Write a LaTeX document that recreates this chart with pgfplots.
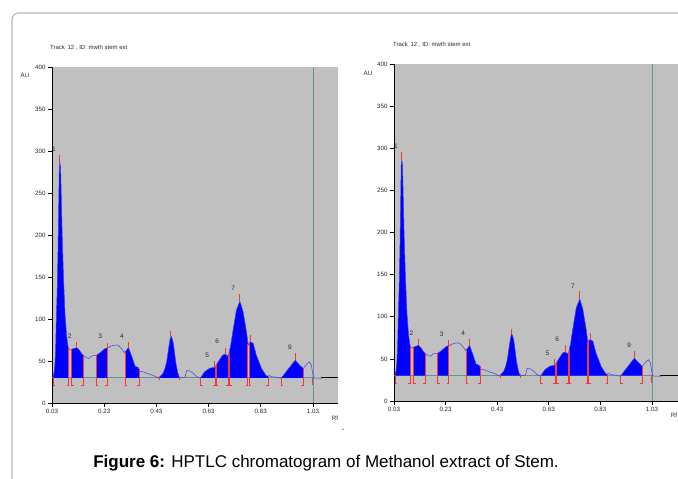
\documentclass[border=0pt]{standalone}
\usepackage{pgfplots}
\pgfplotsset{compat=1.18}
\usepackage{pgfplotstable}
\usepackage{fontspec}
\setmainfont{Liberation Sans}
\definecolor{plotgray}{RGB}{192,192,192}
\definecolor{tealline}{RGB}{96,150,150}
\definecolor{curveblue}{RGB}{60,60,230}
\definecolor{fillblue}{RGB}{0,0,255}
\definecolor{redmark}{RGB}{245,55,55}
\definecolor{framegray}{RGB}{180,180,180}
\definecolor{labelgray}{RGB}{40,40,40}

\pgfplotstableread{
rf au
0.030 29.5
0.034 31
0.038 36
0.041 45
0.044 65
0.0466 100
0.050 135
0.053 180
0.056 240
0.058 280
0.0605 286
0.063 280
0.066 240
0.069 200
0.074 150
0.080 105
0.086 80
0.091 68
0.0937 64
0.100 63
0.106 64
0.115 65
0.1255 66
0.135 63
0.145 58
0.157 55
0.170 53
0.183 56
0.202 57
0.215 60
0.234 65
0.243 65.5
0.259 68
0.272 69
0.285 68.5
0.298 64
0.308 60
0.316 63
0.323 66
0.336 55
0.348 44
0.361 42
0.368 37.5
0.380 37
0.393 35.5
0.405 34
0.419 32.7
0.438 29.5
0.444 31.5
0.455 35
0.463 41
0.470 50
0.476 63
0.482 75
0.486 80
0.490 77
0.495 71
0.505 47
0.512 36
0.518 30.3
0.530 30
0.540 31
0.546 38.6
0.559 38
0.571 35.5
0.584 31.5
0.599 29.5
0.608 34
0.616 37.5
0.635 41.4
0.654 42.5
0.667 49
0.684 57
0.692 58
0.705 56
0.714 67
0.724 87
0.737 111
0.750 121
0.762 109
0.775 85
0.782 69
0.790 73
0.801 71
0.813 57
0.833 41
0.852 32
0.864 32.5
0.875 31
0.884 31
0.895 30
0.909 29.5
0.928 37.5
0.947 45
0.962 51
0.979 45
0.993 41
1.005 46
1.016 49
1.024 45
1.031 31.5
1.036 29.5
1.068 29.5
}\trace

% integrated peak areas (closed at the baseline, AU = 30)
\pgfplotstableread{
rf au
0.034 30
0.034 31
0.038 36
0.041 45
0.044 65
0.0466 100
0.050 135
0.053 180
0.056 240
0.058 280
0.0605 286
0.063 280
0.066 240
0.069 200
0.074 150
0.080 105
0.086 80
0.091 68
0.0937 64
0.0937 30
0.0937 nan
0.1064 30
0.1064 64
0.115 65
0.1255 66
0.135 63
0.145 58
0.151 56.5
0.151 30
0.151 nan
0.199 30
0.199 56.8
0.202 57
0.215 60
0.234 65
0.243 65.5
0.243 30
0.243 nan
0.310 30
0.310 60.7
0.316 63
0.323 66
0.336 55
0.348 44
0.361 42
0.365 39.5
0.365 30
0.365 nan
0.441 30
0.444 31.5
0.455 35
0.463 41
0.470 50
0.476 63
0.482 75
0.486 80
0.490 77
0.495 71
0.505 47
0.512 36
0.518 30.3
0.520 30
0.520 nan
0.599 30
0.608 34
0.616 37.5
0.635 41.4
0.654 42.5
0.656 43.5
0.656 30
0.656 nan
0.660 30
0.660 45
0.667 49
0.684 57
0.692 58
0.705 56
0.706 57
0.706 30
0.706 nan
0.710 30
0.710 62
0.714 67
0.724 87
0.737 111
0.750 121
0.762 109
0.775 85
0.781 70
0.781 30
0.781 nan
0.785 30
0.785 71
0.790 73
0.801 71
0.813 57
0.833 41
0.852 32
0.858 32.2
0.858 30
0.858 nan
0.909 30
0.928 37.5
0.947 45
0.962 51
0.979 45
0.993 41
0.993 30
}\areas

\pgfplotsset{hptlc/.style={
  scale only axis,
  anchor=south west,
  xmin=0.03, ymin=0, ymax=400,
  axis x line=bottom, axis y line=left,
  axis line style={-, black, line width=0.8pt},
  axis background/.style={fill=plotgray},
  xtick={0.03,0.23,0.43,0.63,0.83,1.03},
  xticklabels={0.03,0.23,0.43,0.63,0.83,1.03},
  ytick={0,50,100,150,200,250,300,350,400},
  tick align=outside,
  major tick length=4pt,
  tick style={black, line width=0.6pt},
  ticklabel style={font=\fontsize{6.2}{7}\selectfont, text=labelgray},
  xticklabel style={yshift=1.5pt},
  yticklabel style={xshift=1pt},
  /pgf/number format/assume math mode=true,
  unbounded coords=jump,
  rm/.style={draw=redmark, line width=1pt, mark=none},
}}

\newcommand{\pk}{\fontsize{6.5}{7}\selectfont}
\newcommand{\peaklabels}{%
  \node[font=\pk, text=labelgray] at (axis cs:0.037,302) {1};
  \node[font=\pk, text=labelgray] at (axis cs:0.098,80) {2};
  \node[font=\pk, text=labelgray] at (axis cs:0.215,79) {3};
  \node[font=\pk, text=labelgray] at (axis cs:0.298,80) {4};
  \node[font=\pk, text=labelgray] at (axis cs:0.625,57) {5};
  \node[font=\pk, text=labelgray] at (axis cs:0.663,73) {6};
  \node[font=\pk, text=labelgray] at (axis cs:0.724,136) {7};
  \node[font=\pk, text=labelgray] at (axis cs:0.766,88) {8};
  \node[font=\pk, text=labelgray] at (axis cs:0.942,66) {9};
}

\newcommand{\redlines}{%
  % integration start "[" and end "]" markers, each up to the trace
  \addplot[rm] coordinates {(0.042,21) (0.034,21) (0.034,31)};
  \addplot[rm] coordinates {(0.0857,21) (0.0937,21) (0.0937,64)};
  \addplot[rm] coordinates {(0.1144,21) (0.1064,21) (0.1064,64)};
  \addplot[rm] coordinates {(0.143,21) (0.151,21) (0.151,56)};
  \addplot[rm] coordinates {(0.207,21) (0.199,21) (0.199,57)};
  \addplot[rm] coordinates {(0.235,21) (0.243,21) (0.243,72)};
  \addplot[rm] coordinates {(0.318,21) (0.310,21) (0.310,61)};
  \addplot[rm] coordinates {(0.357,21) (0.365,21) (0.365,41)};
  \addplot[rm] coordinates {(0.441,27) (0.441,32)};
  \addplot[rm] coordinates {(0.520,27) (0.520,32)};
  \addplot[rm] coordinates {(0.607,21) (0.599,21) (0.599,30)};
  \addplot[rm] coordinates {(0.648,21) (0.656,21) (0.656,44)};
  \addplot[rm] coordinates {(0.668,21) (0.660,21) (0.660,45)};
  \addplot[rm] coordinates {(0.698,21) (0.706,21) (0.706,56)};
  \addplot[rm] coordinates {(0.718,21) (0.710,21) (0.710,60)};
  \addplot[rm] coordinates {(0.773,21) (0.781,21) (0.781,70)};
  \addplot[rm] coordinates {(0.793,21) (0.785,21) (0.785,72)};
  \addplot[rm] coordinates {(0.850,21) (0.858,21) (0.858,32)};
  \addplot[rm] coordinates {(0.917,21) (0.909,21) (0.909,30)};
  \addplot[rm] coordinates {(0.985,21) (0.993,21) (0.993,41)};
  \addplot[rm] coordinates {(1.030,21) (1.030,31)};
  % peak maxima
  \addplot[rm] coordinates {(0.0605,286) (0.0605,295)};
  \addplot[rm] coordinates {(0.1255,66) (0.1255,73)};
  \addplot[rm] coordinates {(0.323,66) (0.323,73)};
  \addplot[rm] coordinates {(0.486,80) (0.486,86)};
  \addplot[rm] coordinates {(0.652,42.5) (0.652,50)};
  \addplot[rm] coordinates {(0.695,58) (0.695,66)};
  \addplot[rm] coordinates {(0.750,121) (0.750,130)};
  \addplot[rm] coordinates {(0.790,73) (0.790,81)};
  \addplot[rm] coordinates {(0.962,51) (0.962,59)};
}

\newcommand{\chartbody}[1]{%
  \addplot[tealline, line width=0.6pt] coordinates {(0.03,30) (1.03,30)};
  \addplot[black, line width=0.6pt] coordinates {(1.062,30) (#1,30)};
  \addplot[tealline, line width=0.6pt] coordinates {(1.03,0) (1.03,400)};
  \addplot[fill=fillblue, draw=none] table[x=rf,y=au]{\areas};
  \addplot[curveblue, line width=0.5pt] table[x=rf,y=au]{\trace};
  \redlines
  \peaklabels
}

\begin{document}
\begin{tikzpicture}[x=1pt,y=1pt]
\path[use as bounding box] (0,0) rectangle (678,479);
\draw[framegray, line width=1.1pt, rounded corners=7pt] (12,-2) -- (12,466) -- (680,466);

% left chart
\begin{axis}[hptlc, at={(52pt,76pt)}, width=286pt, height=336pt, xmax=1.126]
\chartbody{1.126}
\end{axis}
% right chart
\begin{axis}[hptlc, at={(394pt,78pt)}, width=284pt, height=337pt, xmax=1.131]
\chartbody{1.131}
\end{axis}

\node[anchor=west, font=\fontsize{6}{6}\selectfont, text=labelgray, inner sep=0] at (50,431) {Track\, 12 , ID: mwth stem ext};
\node[anchor=west, font=\fontsize{6}{6}\selectfont, text=labelgray, inner sep=0] at (393,434) {Track\, 12 , ID: mwth stem ext};
\node[font=\fontsize{6.2}{7}\selectfont, text=labelgray] at (25,404) {AU};
\node[font=\fontsize{6.2}{7}\selectfont, text=labelgray] at (368,406) {AU};
\node[font=\fontsize{6.2}{7}\selectfont, text=labelgray] at (335,61) {Rf};
\node[font=\fontsize{6.2}{7}\selectfont, text=labelgray] at (674,64) {Rf};
\node[font=\fontsize{7}{7}\selectfont] at (343,49) {-};
\node[font=\fontsize{17}{19}\selectfont] at (326,16) {\textbf{Figure 6:} HPTLC chromatogram of Methanol extract of Stem.};
\end{tikzpicture}
\end{document}
